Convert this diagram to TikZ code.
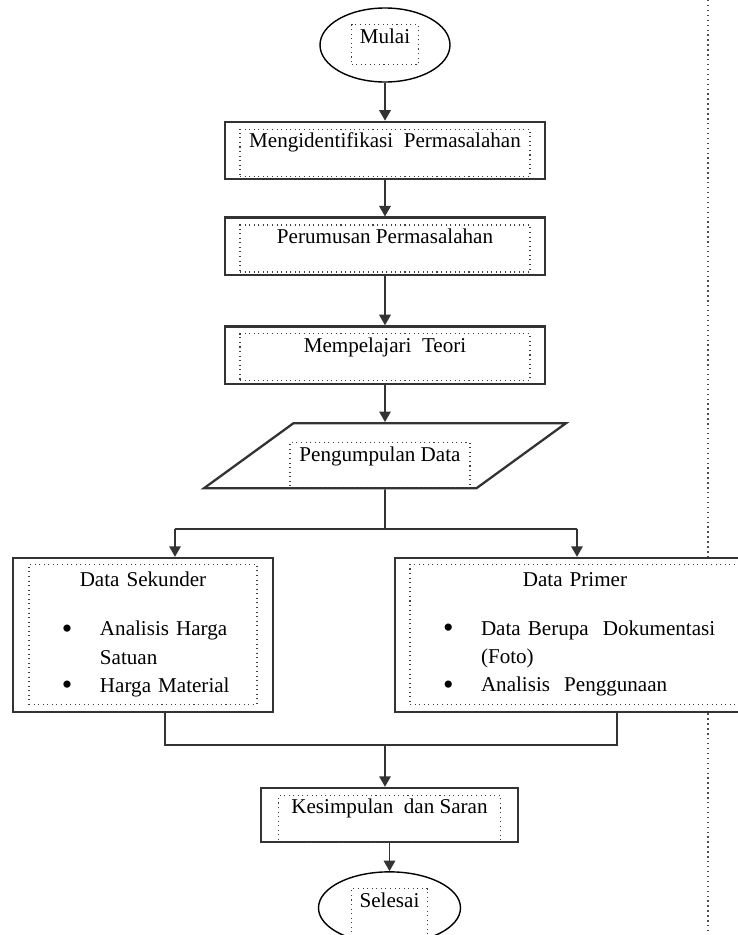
\documentclass[tikz,border=0pt]{standalone}
\usepackage{fontspec}
\setmainfont{Liberation Serif}
\usetikzlibrary{arrows.meta,positioning,shapes.geometric}
\definecolor{lineGray}{HTML}{333333}

\newcommand{\bigbullet}{{\fontsize{17}{16}\selectfont\raisebox{-1.3pt}{\textbullet}}}
\newcommand{\bulletline}[1]{\hspace*{0.59cm}\makebox[0.76cm][l]{\bigbullet}#1}
\newcommand{\wrapline}[1]{\hspace*{1.35cm}#1}

\begin{document}
\begin{tikzpicture}[
    node distance=0.75cm,
    every node/.style={font=\fontsize{12}{16}\selectfont},
    box/.style={rectangle, draw=lineGray, line width=1.3pt, fill=white, minimum width=6.4cm, minimum height=1.15cm},
    term/.style={ellipse, draw=black, line width=0.8pt, fill=white},
    io/.style={trapezium, trapezium left angle=36, trapezium right angle=144, draw=lineGray, line width=1.3pt, fill=white, inner sep=0pt, text width=3.66cm, text height=0.65cm, text depth=0.65cm},
    txt/.style={draw=black!75, dotted, line width=0.6pt, inner sep=2pt, text height=8.5pt, anchor=north},
    list/.style={draw=black!75, dotted, line width=0.6pt, inner sep=2pt, align=left, anchor=north},
    flow/.style={draw=lineGray, line width=1.1pt},
    arr/.style={flow, -{Triangle[length=6pt,width=6.5pt]}}
]
\clip (0,0) rectangle (14.76,-18.70);

% page margin line
\coordinate (marginTop) at (14.16,0);
\coordinate (marginBottom) at (14.16,-18.70);
\draw[dotted, line width=0.8pt, black!70] (marginTop) -- (marginBottom);

% Main steps
\node[term, minimum width=2.6cm, minimum height=1.48cm] (mulai) at (7.70,-0.90) {};
\node[txt, minimum width=1.34cm, text depth=0.36cm] (mulaiText) at ([yshift=-0.34cm]mulai.north) {Mulai};

\node[box, below=0.76cm of mulai] (identifikasi) {};
\node[txt, minimum width=5.8cm, text depth=0.5cm] (identifikasiText) at ([yshift=-0.16cm]identifikasi.north) {Mengidentifikasi\ \ Permasalahan};

\node[box, below=0.72cm of identifikasi] (rumusan) {};
\node[txt, minimum width=5.8cm, text depth=0.5cm] (rumusanText) at ([yshift=-0.16cm]rumusan.north) {Perumusan Permasalahan};

\node[box, below=0.98cm of rumusan] (teori) {};
\node[txt, minimum width=5.8cm, text depth=0.5cm] (teoriText) at ([yshift=-0.16cm]teori.north) {Mempelajari\ \ Teori};

\node[io, below=0.74cm of teori] (pengumpulan) {};
\node[txt, minimum width=3.6cm, text depth=0.46cm] (pengumpulanText) at ([xshift=-0.1cm,yshift=-0.40cm]pengumpulan.north) {Pengumpulan Data};

\draw[arr] (mulai) -- (identifikasi);
\draw[arr] (identifikasi) -- (rumusan);
\draw[arr] (rumusan) -- (teori);
\draw[arr] (teori) -- (pengumpulan);

% Data branches
\coordinate[below=0.8cm of pengumpulan] (split);
\coordinate (splitL) at ([xshift=-4.20cm]split);
\coordinate (splitR) at ([xshift=3.84cm]split);

\node[box, minimum width=5.2cm, minimum height=3.08cm] (sekunder) at (2.86,-12.70) {};
\node[list, text width=4.42cm, minimum height=2.8cm] (sekunderText) at ([yshift=-0.14cm]sekunder.north) {\makebox[4.42cm]{Data Sekunder}\\[12pt] \bulletline{Analisis Harga}\\ \wrapline{Satuan}\\ \bulletline{Harga Material}};

\node[box, minimum width=7.2cm, minimum height=3.08cm] (primer) at (11.50,-12.70) {};
\node[list, text width=6.46cm, minimum height=2.8cm] (primerText) at ([yshift=-0.14cm]primer.north) {\makebox[6.46cm]{Data Primer}\\[12pt] \bulletline{Data Berupa\ \ Dokumentasi}\\ \wrapline{(Foto)}\\ \bulletline{Analisis\ \ Penggunaan}};

\draw[flow] (pengumpulan) -- (split);
\draw[flow] (splitL) -- (splitR);
\draw[arr] (splitL) -- (splitL |- sekunder.north);
\draw[arr] (splitR) -- (splitR |- primer.north);

% Join and finish
\coordinate (join) at (7.70,-14.90);
\coordinate (joinL) at ([xshift=-4.40cm]join);
\coordinate (joinR) at ([xshift=4.64cm]join);

\node[box, minimum width=5.14cm, minimum height=1.08cm] (kesimpulan) at (7.79,-16.30) {};
\node[txt, minimum width=4.44cm, text depth=0.5cm] (kesimpulanText) at ([yshift=-0.16cm]kesimpulan.north) {Kesimpulan\ \ dan Saran};

\node[term, minimum width=2.84cm, minimum height=1.44cm, below=0.56cm of kesimpulan] (selesai) {};
\node[txt, minimum width=1.52cm, text depth=0.6cm] (selesaiText) at ([yshift=-0.34cm]selesai.north) {Selesai};

\draw[flow] (sekunder.south -| joinL) -- (joinL) -- (joinR) -- (primer.south -| joinR);
\draw[arr] (join) -- (join |- kesimpulan.north);
\draw[arr] (kesimpulan) -- (selesai);

\end{tikzpicture}
\end{document}
